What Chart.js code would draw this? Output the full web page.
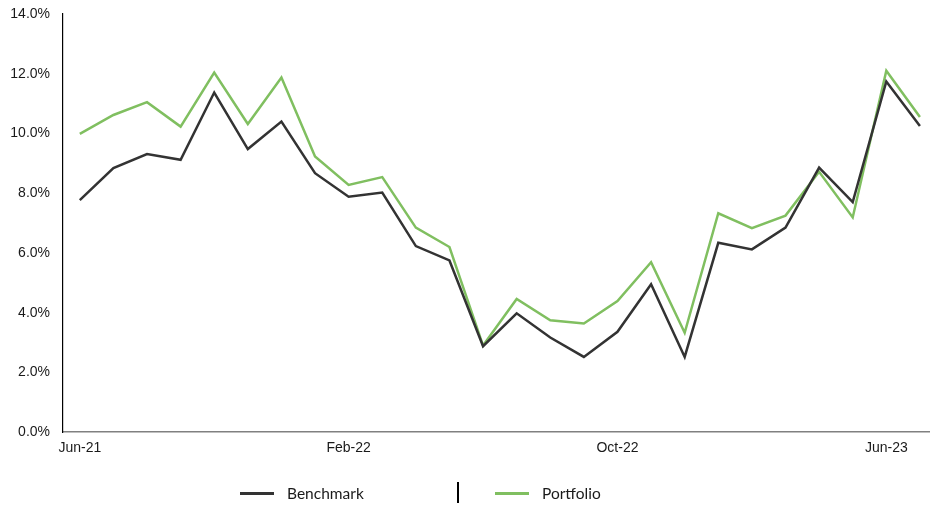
<!DOCTYPE html>
<html>
<head>
<meta charset="utf-8">
<script src="https://cdn.jsdelivr.net/npm/chart.js@4"></script>
<style>
  html, body { margin: 0; padding: 0; background: #fff; overflow: hidden; }
  #wrap { position: relative; width: 930px; height: 505px; }
  #legend {
    position: absolute; left: 0; top: 481px; width: 930px; height: 24px;
    font-family: Lato, "Open Sans", sans-serif; font-size: 15.5px; color: #1a1a1a;
  }
  .item { position: absolute; top: 0; height: 24px; line-height: 24px; white-space: nowrap; }
  .item .swatch { position: absolute; top: 11px; width: 34px; height: 3px; }
  .item .label { position: absolute; left: 47px; top: 0; }
  #sep { position: absolute; left: 457px; top: 1px; width: 1.5px; height: 21px; background: #000; }
</style>
</head>
<body>
<div id="wrap">
  <canvas id="myChart" width="930" height="505"></canvas>
  <div id="legend"></div>
</div>
<script>
const months = ['Jun-21', 'Jul-21', 'Aug-21', 'Sep-21', 'Oct-21', 'Nov-21', 'Dec-21',
  'Jan-22', 'Feb-22', 'Mar-22', 'Apr-22', 'May-22', 'Jun-22', 'Jul-22', 'Aug-22',
  'Sep-22', 'Oct-22', 'Nov-22', 'Dec-22', 'Jan-23', 'Feb-23', 'Mar-23', 'Apr-23',
  'May-23', 'Jun-23', 'Jul-23']
const benchmark = [7.77, 8.84, 9.31, 9.12, 11.37, 9.48, 10.40, 8.67, 7.88, 8.02, 6.23, 5.75,
  2.88, 3.98, 3.17, 2.52, 3.36, 4.95, 2.52, 6.34, 6.12, 6.85, 8.86, 7.70, 11.74, 10.25]
const portfolio = [9.99, 10.62, 11.05, 10.23, 12.04, 10.32, 11.87, 9.23, 8.28, 8.54, 6.85, 6.20,
  2.90, 4.46, 3.75, 3.64, 4.39, 5.69, 3.33, 7.33, 6.83, 7.25, 8.72, 7.19, 12.10, 10.55]
const tickMonths = [0, 8, 16, 24]

const benchColor = '#333333'
const portColor = '#80bf60'

function toPoints(values) {
  return values.map(function(v, i) { return { x: i, y: v } })
}

const axisFont = { family: "'Liberation Sans', Arial, Helvetica, sans-serif", size: 14 }

const ctx = document.getElementById('myChart').getContext('2d')
const myChart = new Chart(ctx, {
  type: 'line',
  data: {
    datasets: [
      { label: 'Benchmark', data: toPoints(benchmark), borderColor: benchColor, borderWidth: 2.5,
        pointRadius: 0, tension: 0, fill: false },
      { label: 'Portfolio', data: toPoints(portfolio), borderColor: portColor, borderWidth: 2.5,
        pointRadius: 0, tension: 0, fill: false }
    ]
  },
  options: {
    responsive: false,
    animation: false,
    layout: { padding: { top: 14, left: 0, right: 0, bottom: 40 } },
    plugins: { legend: { display: false }, tooltip: { enabled: false } },
    scales: {
      x: {
        type: 'linear',
        min: -0.5,
        max: 25.3,
        grid: { display: false, drawTicks: false },
        border: { display: true, color: '#808080', width: 1.5 },
        afterBuildTicks: function(scale) {
          scale.ticks = tickMonths.map(function(i) { return { value: i } })
        },
        ticks: {
          padding: 8,
          maxRotation: 0,
          autoSkip: false,
          color: '#1a1a1a',
          font: axisFont,
          callback: function(value) { return months[value] }
        }
      },
      y: {
        min: 0,
        max: 14,
        grid: { display: false, drawTicks: false },
        border: { display: true, color: '#000', width: 1.2 },
        afterFit: function(scale) {
          scale.width = 63
          // let the layout padding alone decide where the plot starts
          scale.paddingTop = 0
          scale.paddingBottom = 0
        },
        ticks: {
          stepSize: 2,
          padding: 13,
          color: '#1a1a1a',
          font: axisFont,
          callback: function(value) { return value.toFixed(1) + '%' }
        }
      }
    }
  }
})

// legend below the plot, with a divider between the two entries
const legendEl = document.getElementById('legend')
const legendLeft = [240, 495]
myChart.data.datasets.forEach(function(ds, i) {
  const item = document.createElement('div')
  item.className = 'item'
  item.style.left = legendLeft[i] + 'px'
  item.innerHTML = '<span class="swatch" style="background:' + ds.borderColor + '"></span>' +
    '<span class="label">' + ds.label + '</span>'
  legendEl.appendChild(item)
})
const sep = document.createElement('div')
sep.id = 'sep'
legendEl.appendChild(sep)
</script>
</body>
</html>
